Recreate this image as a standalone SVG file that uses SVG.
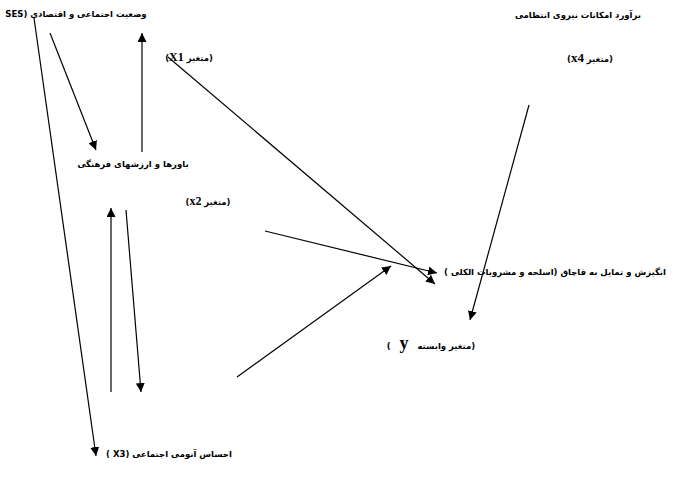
<svg xmlns="http://www.w3.org/2000/svg" width="673" height="493" viewBox="0 0 673 493">
<style>
.t{font-family:"DejaVu Sans","Liberation Serif",serif;font-weight:bold;font-size:8.5px;fill:#000;direction:rtl;text-anchor:middle}
.big{font-family:"Liberation Serif",serif;font-weight:bold}
.c line{stroke:#000;stroke-width:1.2;fill:none}
</style>
<defs>
<marker id="a" viewBox="0 0 10 10" refX="10" refY="5" markerWidth="9" markerHeight="9" markerUnits="userSpaceOnUse" orient="auto">
<path d="M0,0L10,5L0,10z" fill="#000"/>
</marker>
</defs>
<rect width="673" height="493" fill="#fff"/>
<g id="ses"><text class="t" x="76" y="17">وضعیت اجتماعی و اقتصادی (SES</text></g>
<g id="x1"><text class="t" x="189" y="61">(متغیر <tspan class="big" font-size="12">X1</tspan>)</text></g>
<g id="police"><text class="t" x="578" y="18">برآورد امکانات نیروی انتظامی</text></g>
<g id="x4"><text class="t" x="590" y="62">(متغیر <tspan class="big" font-size="13">x4</tspan>)</text></g>
<g id="culture"><text class="t" x="133" y="167">باورها و ارزشهای فرهنگی</text></g>
<g id="x2"><text class="t" x="208" y="205">(متغیر <tspan class="big" font-size="12">x2</tspan>)</text></g>
<g id="motive"><text class="t" x="555" y="275">انگیزش و تمایل به قاچاق (اسلحه و مشروبات الکلی )</text></g>
<g id="y"><text class="t" x="431" y="349">(متغیر وابسته&#160;&#160;&#160;<tspan class="big" font-size="18">y</tspan>&#160;&#160;&#160;)</text></g>
<g id="x3"><text class="t" x="169" y="457">احساس آنومی اجتماعی (X3 )</text></g>
<g class="c" id="connectors">
<line x1="34" y1="18" x2="96" y2="456" marker-end="url(#a)"/>
<line x1="50" y1="33" x2="96" y2="150" marker-end="url(#a)"/>
<line x1="142" y1="152" x2="142" y2="33" marker-end="url(#a)"/>
<line x1="168" y1="57" x2="435" y2="284" marker-end="url(#a)"/>
<line x1="529" y1="105" x2="470" y2="320" marker-end="url(#a)"/>
<line x1="265" y1="231" x2="437" y2="273" marker-end="url(#a)"/>
<line x1="111" y1="392" x2="111" y2="208" marker-end="url(#a)"/>
<line x1="126" y1="210" x2="141" y2="392" marker-end="url(#a)"/>
<line x1="237" y1="377" x2="391" y2="266" marker-end="url(#a)"/>
</g>
</svg>
